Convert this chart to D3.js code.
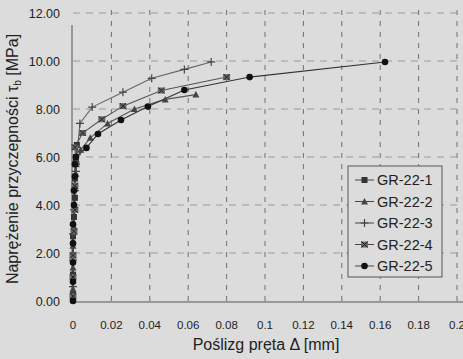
<!DOCTYPE html>
<html>
<head>
<meta charset="utf-8">
<script src="https://cdn.jsdelivr.net/npm/d3@7/dist/d3.min.js"></script>
<style>
  html, body { margin: 0; padding: 0; background: #dcdcdc; }
  svg { display: block; font-family: "Liberation Sans", Arial, sans-serif; }
</style>
</head>
<body>
<div id="chart"></div>
<script>
const xTicks = [0, 0.02, 0.04, 0.06, 0.08, 0.1, 0.12, 0.14, 0.16, 0.18, 0.2];
const yTicks = [0, 2, 4, 6, 8, 10, 12];
const seriesNames = ['GR-22-1', 'GR-22-2', 'GR-22-3', 'GR-22-4', 'GR-22-5'];

const gr1X = [0, 0, 0, 0, 0.0005, 0.001, 0.001, 0.0015, 0.002];
const gr1Y = [0.3, 1.1, 1.9, 2.7, 3.5, 4.3, 5.1, 5.9, 6.5];

const gr2X = [0, 0, 0, 0.0005, 0.001, 0.001, 0.0015, 0.002, 0.004, 0.009, 0.018, 0.032, 0.048, 0.064];
const gr2Y = [0.5, 1.4, 2.3, 3.1, 3.9, 4.7, 5.3, 5.8, 6.3, 6.8, 7.4, 8.0, 8.4, 8.6];

const gr3X = [0, 0, 0, 0.0005, 0.001, 0.0015, 0.002, 0.0036, 0.010, 0.026, 0.041, 0.058, 0.072];
const gr3Y = [0.6, 1.7, 2.8, 3.8, 4.6, 5.4, 6.1, 7.4, 8.08, 8.7, 9.28, 9.65, 9.96];

const gr4X = [0, 0, 0, 0.0005, 0.001, 0.001, 0.0015, 0.001, 0.005, 0.015, 0.026, 0.046, 0.080];
const gr4Y = [0.2, 1.0, 1.9, 2.9, 3.8, 4.8, 5.7, 6.4, 7.0, 7.57, 8.12, 8.77, 9.33];

const gr5X = [0, 0, 0, 0, 0, 0.0005, 0.0005, 0.001, 0.001, 0.0015, 0.007, 0.013, 0.025, 0.039, 0.058, 0.092, 0.1625];
const gr5Y = [0, 0.8, 1.6, 2.4, 3.2, 4.0, 4.6, 5.2, 5.7, 6.0, 6.38, 6.96, 7.54, 8.1, 8.79, 9.33, 9.96];

const allX = [gr1X, gr2X, gr3X, gr4X, gr5X];
const allY = [gr1Y, gr2Y, gr3Y, gr4Y, gr5Y];

const W = 463, H = 359;
const x = d3.scaleLinear().domain([0, 0.2]).range([73, 457]);
const y = d3.scaleLinear().domain([0, 12]).range([301, 13]);

const svg = d3.select('#chart').append('svg').attr('width', W).attr('height', H);
svg.append('rect').attr('width', W).attr('height', H).attr('fill', '#dcdcdc');

// grid
svg.append('g').selectAll('line').data(xTicks.slice(1)).join('line')
  .attr('x1', d => x(d)).attr('x2', d => x(d))
  .attr('y1', y(12) - 3).attr('y2', y(0))
  .attr('stroke', '#707070').attr('stroke-width', 1).attr('stroke-dasharray', '5 6');
svg.append('g').selectAll('line').data(yTicks.slice(1)).join('line')
  .attr('x1', x(0)).attr('x2', W)
  .attr('y1', d => y(d)).attr('y2', d => y(d))
  .attr('stroke', '#9a9a9a').attr('stroke-width', 1).attr('stroke-dasharray', '7 6');

// axes lines
svg.append('line').attr('x1', x(0)).attr('x2', W).attr('y1', y(0) + 1).attr('y2', y(0) + 1)
  .attr('stroke', '#555').attr('stroke-width', 1);
svg.append('line').attr('x1', x(0) - 1).attr('x2', x(0) - 1).attr('y1', y(11.5)).attr('y2', y(0))
  .attr('stroke', '#555').attr('stroke-width', 1);

// tick labels
svg.append('g').selectAll('text').data(yTicks).join('text')
  .attr('x', 60).attr('y', d => y(d) + 4.5)
  .attr('text-anchor', 'end').attr('font-size', 12.5).attr('fill', '#222')
  .text(d => d3.format('.2f')(d));
svg.append('g').selectAll('text').data(xTicks).join('text')
  .attr('x', d => x(d)).attr('y', 329)
  .attr('text-anchor', 'middle').attr('font-size', 11.5).attr('fill', '#222')
  .text(d => String(d));

// axis titles
svg.append('text').attr('x', 266).attr('y', 350).attr('text-anchor', 'middle')
  .attr('font-size', 16).attr('fill', '#222').text('Poślizg pręta Δ [mm]');
const yt = svg.append('text').attr('transform', 'translate(18,159) rotate(-90)')
  .attr('text-anchor', 'middle').attr('font-size', 16).attr('fill', '#222');
yt.append('tspan').text('Naprężenie przyczepności  τ');
yt.append('tspan').attr('font-size', 10).attr('dy', 3).text('b');
yt.append('tspan').attr('dy', -3).text(' [MPa]');

// markers
function drawMarker(g, i, cx, cy) {
  if (i === 0) {
    g.append('rect').attr('x', cx - 3).attr('y', cy - 3).attr('width', 6).attr('height', 6).attr('fill', '#333');
  } else if (i === 1) {
    g.append('path').attr('d', `M${cx},${cy - 3.5}L${cx + 3.5},${cy + 3}L${cx - 3.5},${cy + 3}Z`).attr('fill', '#444');
  } else if (i === 2) {
    g.append('path').attr('d', `M${cx - 4},${cy}L${cx + 4},${cy}M${cx},${cy - 4}L${cx},${cy + 4}`)
      .attr('stroke', '#444').attr('stroke-width', 1.2);
  } else if (i === 3) {
    g.append('rect').attr('x', cx - 3.5).attr('y', cy - 3).attr('width', 7).attr('height', 6).attr('fill', '#666');
    g.append('path').attr('d', `M${cx - 3},${cy - 3}L${cx + 3},${cy + 3}M${cx + 3},${cy - 3}L${cx - 3},${cy + 3}`)
      .attr('stroke', '#222').attr('stroke-width', 1);
  } else {
    g.append('circle').attr('cx', cx).attr('cy', cy).attr('r', 3.3).attr('fill', '#111');
  }
}

const lineGen = d3.line().x(d => x(d[0])).y(d => y(d[1]));
const lineColors = ['#444', '#555', '#666', '#555', '#333'];
seriesNames.forEach((name, i) => {
  const pts = allX[i].map((v, k) => [v, allY[i][k]]);
  svg.append('path').datum(pts).attr('d', lineGen).attr('fill', 'none')
    .attr('stroke', lineColors[i]).attr('stroke-width', 1.1);
});
seriesNames.forEach((name, i) => {
  const g = svg.append('g');
  allX[i].forEach((v, k) => drawMarker(g, i, x(v), y(allY[i][k])));
});

// legend
const lg = svg.append('g');
lg.append('rect').attr('x', 348).attr('y', 166).attr('width', 94).attr('height', 111)
  .attr('fill', '#dcdcdc').attr('stroke', '#555').attr('stroke-width', 1);
seriesNames.forEach((name, i) => {
  const ly = 180 + i * 21.5;
  lg.append('line').attr('x1', 355).attr('x2', 374).attr('y1', ly).attr('y2', ly)
    .attr('stroke', '#444').attr('stroke-width', 1);
  drawMarker(lg, i, 364.5, ly);
  lg.append('text').attr('x', 377).attr('y', ly + 5).attr('font-size', 14.5).attr('fill', '#222').text(name);
});
</script>
</body>
</html>
